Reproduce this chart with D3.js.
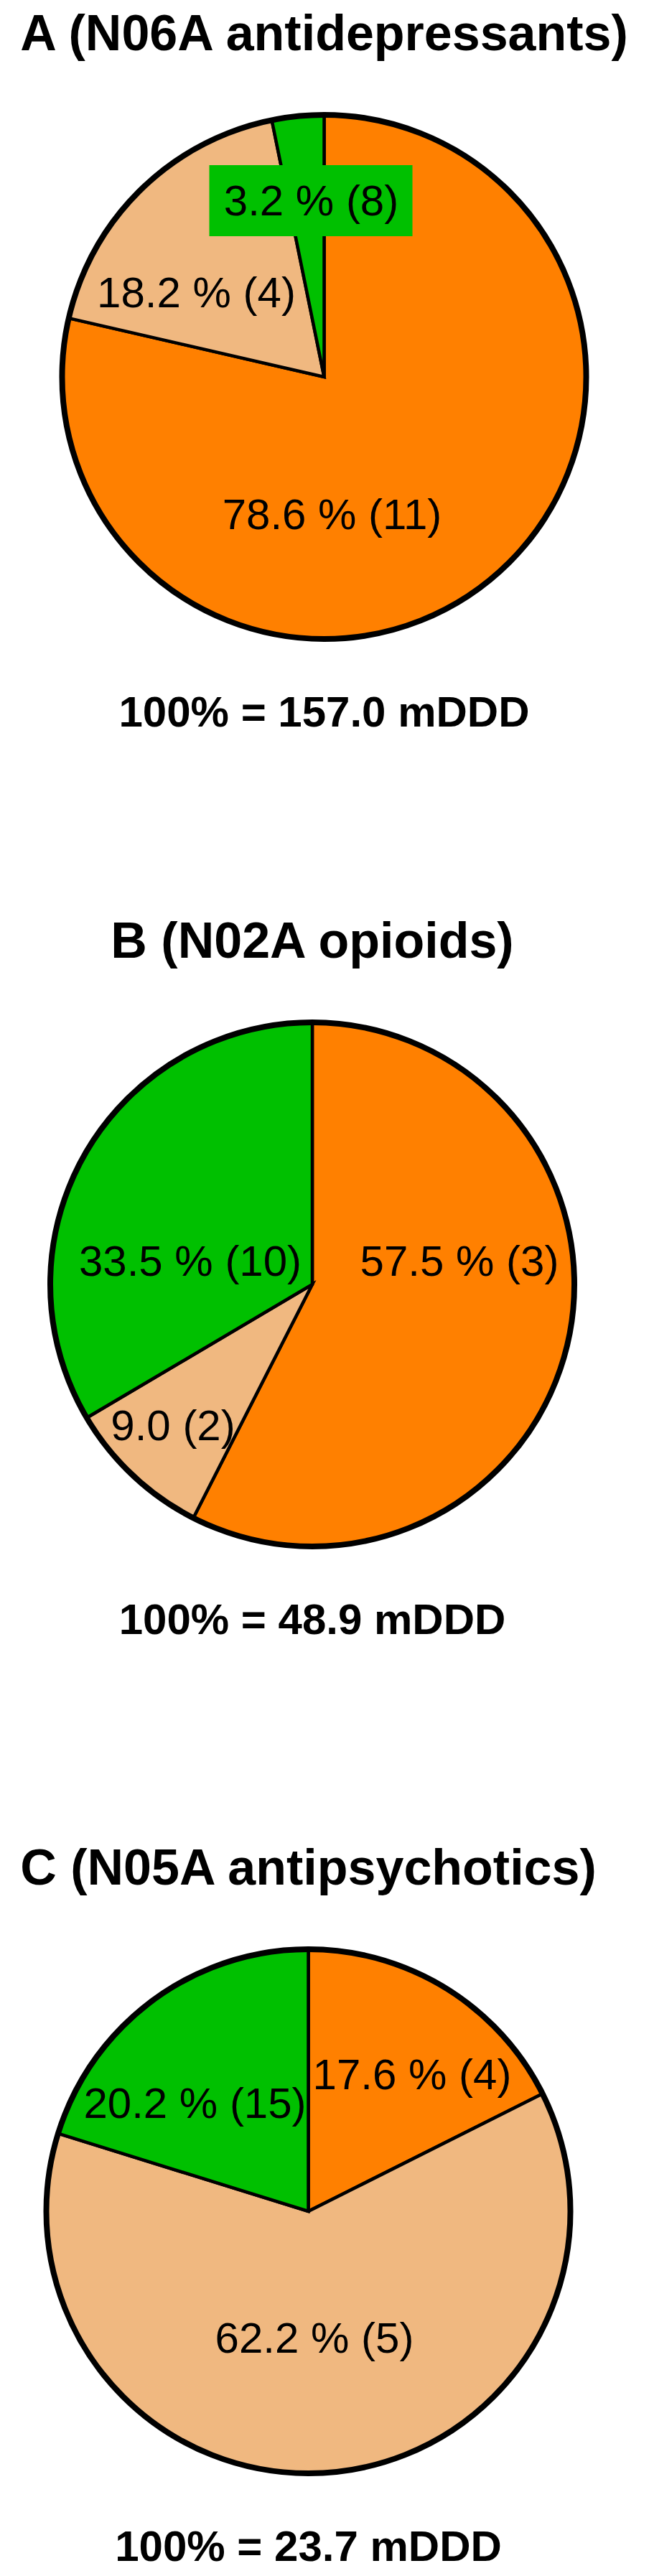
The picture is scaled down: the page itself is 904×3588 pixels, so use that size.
<!DOCTYPE html>
<html>
<head>
<meta charset="utf-8">
<script src="https://cdn.jsdelivr.net/npm/d3@7"></script>
<style>
  body { margin: 0; background: white; }
  text { font-family: "Liberation Sans", Arial, sans-serif; }
</style>
</head>
<body>
<script>
// Data
var panelTitles = ["A (N06A antidepressants)", "B (N02A opioids)", "C (N05A antipsychotics)"];
var totals = [157.0, 48.9, 23.7];            // mDDD = 100%
var sliceGroups = ["orange", "tan", "green"]; // slice order, clockwise from 12 o'clock
var shares = [
  [78.6, 18.2, 3.2],
  [57.5, 9.0, 33.5],
  [17.6, 62.2, 20.2]
];
var counts = [
  [11, 4, 8],
  [3, 2, 10],
  [4, 5, 15]
];
// the small slice of B is printed without the % sign
var pctSign = [
  [true, true, true],
  [true, false, true],
  [true, true, true]
];

// Layout
var width = 904,
  height = 3588;
var radius = 365;
var panelCenters = [[451.5, 525], [435, 1789], [429.5, 3080]];
// label anchor (text centre x, baseline y) relative to the pie centre
var labelOffsets = [
  [[11, 212], [-178, -97], [-18, -225]],
  [[205, -12], [-194, 217], [-170, -12]],
  [[144.5, -170], [8.5, 197], [-158, -130]]
];
// labels that get a filled box behind them
var labelBox = [
  [false, false, true],
  [false, false, false],
  [false, false, false]
];

var colour = d3.scaleOrdinal()
  .domain(sliceGroups)
  .range(["#FF8000", "#F0B880", "#00C000"]);

var svg = d3.select("body")
  .append("svg")
  .attr("width", width)
  .attr("height", height)
  .style("background", "white");

var pie = d3.pie()
  .sort(null)
  .value(function(d) { return d.value; });

var arc = d3.arc()
  .innerRadius(0)
  .outerRadius(radius);

panelTitles.forEach(function(title, p) {
  var cx = panelCenters[p][0],
    cy = panelCenters[p][1];

  var rows = sliceGroups.map(function(g, i) {
    return {
      group: g,
      value: shares[p][i],
      count: counts[p][i],
      pct: pctSign[p][i],
      offset: labelOffsets[p][i],
      box: labelBox[p][i]
    };
  });

  var g = svg.append("g")
    .attr("transform", "translate(" + cx + "," + cy + ")");

  // Title
  g.append("text")
    .attr("x", 0)
    .attr("y", -455)
    .attr("text-anchor", "middle")
    .style("font-size", "70px")
    .style("font-weight", "bold")
    .text(title);

  // Slices
  g.selectAll(".slice")
    .data(pie(rows))
    .enter()
    .append("path")
    .attr("class", "slice")
    .attr("d", arc)
    .attr("fill", function(d) { return colour(d.data.group); })
    .attr("stroke", "black")
    .attr("stroke-width", 4.5);

  // Outer rim
  g.append("circle")
    .attr("r", radius)
    .attr("fill", "none")
    .attr("stroke", "black")
    .attr("stroke-width", 8);

  // Slice labels
  var labels = g.selectAll(".lbl")
    .data(rows)
    .enter()
    .append("g")
    .attr("class", "lbl")
    .attr("transform", function(d) {
      return "translate(" + d.offset[0] + "," + d.offset[1] + ")";
    });

  labels.filter(function(d) { return d.box; })
    .append("rect")
    .attr("x", -142)
    .attr("y", -70)
    .attr("width", 283)
    .attr("height", 99)
    .attr("fill", function(d) { return colour(d.group); });

  labels.append("text")
    .attr("text-anchor", "middle")
    .style("font-size", "60px")
    .text(function(d) {
      return d3.format(".1f")(d.value) + (d.pct ? " %" : "") + " (" + d.count + ")";
    });

  // Total
  g.append("text")
    .attr("x", 0)
    .attr("y", 487)
    .attr("text-anchor", "middle")
    .style("font-size", "60px")
    .style("font-weight", "bold")
    .text("100% = " + d3.format(".1f")(totals[p]) + " mDDD");
});
</script>
</body>
</html>
